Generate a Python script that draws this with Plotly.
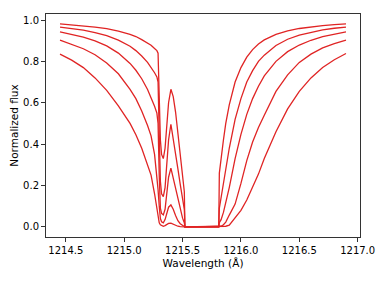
import plotly.graph_objects as go

wavelength = [
    1214.45, 1214.55, 1214.65, 1214.75, 1214.85, 1214.95, 1215.05, 1215.10, 1215.15, 1215.20,
    1215.23, 1215.26, 1215.28, 1215.29, 1215.30, 1215.31, 1215.32, 1215.335, 1215.35, 1215.365,
    1215.38, 1215.40, 1215.42, 1215.44, 1215.46, 1215.48, 1215.50, 1215.515, 1215.52, 1215.60,
    1215.70, 1215.81, 1215.815, 1215.83, 1215.85, 1215.87, 1215.90, 1215.95, 1216.00, 1216.05,
    1216.10, 1216.15, 1216.20, 1216.30, 1216.40, 1216.50, 1216.60, 1216.70, 1216.80, 1216.90,
]

flux_a = [
    0.981, 0.977, 0.972, 0.966, 0.958, 0.946, 0.930, 0.920, 0.905, 0.890,
    0.878, 0.862, 0.852, 0.840, 0.620, 0.420, 0.350, 0.330, 0.380, 0.500,
    0.600, 0.665, 0.630, 0.555, 0.460, 0.355, 0.250, 0.170, 0.0, 0.0,
    0.0, 0.0, 0.260, 0.340, 0.420, 0.500, 0.590, 0.700, 0.770, 0.820,
    0.857, 0.884, 0.904, 0.930, 0.948, 0.959, 0.967, 0.973, 0.978, 0.981,
]

flux_b = [
    0.966, 0.959, 0.951, 0.939, 0.924, 0.903, 0.873, 0.852, 0.826, 0.795,
    0.772, 0.745, 0.725, 0.700, 0.450, 0.220, 0.160, 0.146, 0.190, 0.300,
    0.420, 0.496, 0.430, 0.355, 0.280, 0.205, 0.135, 0.085, 0.0, 0.0,
    0.0, 0.0, 0.090, 0.140, 0.210, 0.280, 0.380, 0.520, 0.620, 0.700,
    0.755, 0.800, 0.830, 0.877, 0.907, 0.927, 0.941, 0.952, 0.960, 0.966,
]

flux_c = [
    0.943, 0.931, 0.917, 0.899, 0.875, 0.840, 0.790, 0.757, 0.716, 0.664,
    0.626, 0.583, 0.550, 0.500, 0.250, 0.090, 0.065, 0.058, 0.085, 0.160,
    0.240, 0.284, 0.235, 0.180, 0.127, 0.080, 0.042, 0.020, 0.0, 0.0,
    0.0, 0.0, 0.020, 0.035, 0.070, 0.115, 0.190, 0.330, 0.447, 0.544,
    0.620, 0.680, 0.730, 0.800, 0.847, 0.879, 0.902, 0.920, 0.933, 0.943,
]

flux_d = [
    0.903, 0.883, 0.861, 0.832, 0.792, 0.740, 0.665, 0.620, 0.560, 0.490,
    0.440, 0.350, 0.250, 0.180, 0.100, 0.040, 0.025, 0.020, 0.035, 0.065,
    0.095, 0.106, 0.085, 0.055, 0.030, 0.015, 0.005, 0.002, 0.0, 0.0,
    0.0, 0.0, 0.0, 0.003, 0.010, 0.023, 0.057, 0.110, 0.210, 0.320,
    0.410, 0.480, 0.540, 0.655, 0.735, 0.795, 0.835, 0.865, 0.886, 0.903,
]

flux_e = [
    0.835, 0.806, 0.770, 0.720, 0.660, 0.585, 0.500, 0.445, 0.380, 0.300,
    0.250, 0.160, 0.090, 0.045, 0.020, 0.010, 0.006, 0.003, 0.006, 0.012,
    0.017, 0.018, 0.013, 0.007, 0.003, 0.001, 0.0, 0.0, 0.0, 0.0,
    0.0, 0.0, 0.0, 0.0, 0.001, 0.003, 0.008, 0.045, 0.080, 0.130,
    0.190, 0.255, 0.330, 0.460, 0.570, 0.655, 0.720, 0.770, 0.808, 0.838,
]

x_ticks = [1214.5, 1215.0, 1215.5, 1216.0, 1216.5, 1217.0]
y_ticks = [0.0, 0.2, 0.4, 0.6, 0.8, 1.0]

line_color = "#e02424"

fig = go.Figure()
for series in [flux_a, flux_b, flux_c, flux_d, flux_e]:
    fig.add_trace(go.Scatter(
        x=wavelength, y=series, mode="lines",
        line=dict(color=line_color, width=1.3),
        showlegend=False, hoverinfo="skip",
    ))

axis_common = dict(
    showline=True, linecolor="#333333", linewidth=1, mirror=True,
    ticks="outside", ticklen=4, tickcolor="#333333", tickwidth=1,
    showgrid=False, zeroline=False, automargin=False,
    tickfont=dict(family="DejaVu Sans", size=10, color="black"),
)

fig.update_layout(
    width=382, height=274,
    margin=dict(l=38, r=30, t=6, b=45),
    paper_bgcolor="white", plot_bgcolor="white",
    font=dict(family="DejaVu Sans", size=10, color="black"),
    xaxis=dict(
        range=[1214.33, 1217.02],
        tickvals=x_ticks, ticktext=[f"{v:.1f}" for v in x_ticks],
        title=dict(text="Wavelength (Å)", font=dict(size=10.5), standoff=4),
        **axis_common,
    ),
    yaxis=dict(
        range=[-0.049, 1.029],
        tickvals=y_ticks, ticktext=[f"{v:.1f}" for v in y_ticks],
        title=dict(text="Normalized flux", font=dict(size=10.5), standoff=6),
        **axis_common,
    ),
)

fig.write_html("out.html")
